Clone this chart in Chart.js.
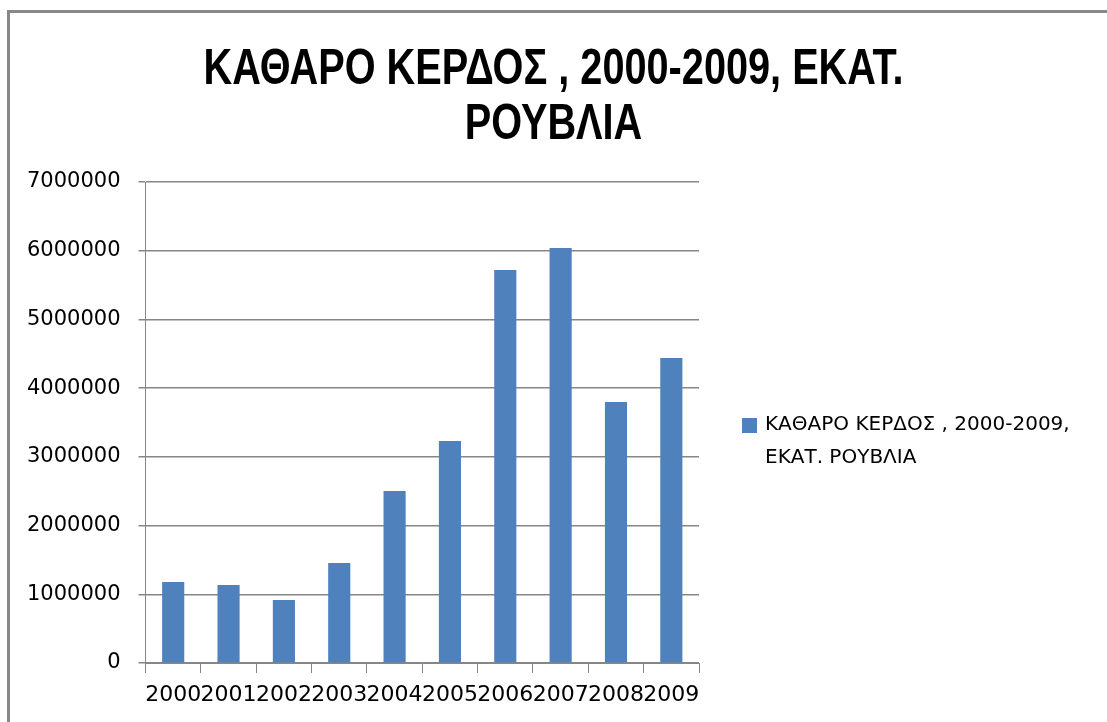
<!DOCTYPE html>
<html>
<head>
<meta charset="utf-8">
<script src="https://cdn.jsdelivr.net/npm/chart.js@4"></script>
<style>
  html, body { margin: 0; padding: 0; background: #fff; overflow: hidden; }
  #grafica { display: block; }
</style>
</head>
<body>
<canvas id="grafica" width="1107" height="722"></canvas>
<script>
// datos del grafico
const anios = ["2000", "2001", "2002", "2003", "2004", "2005", "2006", "2007", "2008", "2009"];
const beneficio = [1180000, 1135000, 917000, 1455000, 2503000, 3230000, 5720000, 6040000, 3800000, 4440000];
const titulo = ["ΚΑΘΑΡΟ ΚΕΡΔΟΣ , 2000-2009, ΕΚΑΤ.", "ΡΟΥΒΛΙΑ"];
const nombreSerie = "ΚΑΘΑΡΟ ΚΕΡΔΟΣ , 2000-2009, ΕΚΑΤ. ΡΟΥΒΛΙΑ";
const ticksY = [0, 1000000, 2000000, 3000000, 4000000, 5000000, 6000000, 7000000];

const gris = "#868686";
const fuenteEjes = "DejaVu Sans";

// marco gris (solo borde superior e izquierdo visibles)
const pluginMarco = {
  id: "marco",
  beforeDraw(chart) {
    const c = chart.ctx;
    c.save();
    c.fillStyle = "#fff";
    c.fillRect(0, 0, chart.width, chart.height);
    c.strokeStyle = "#888";
    c.lineWidth = 3;
    c.beginPath();
    c.moveTo(8.5, chart.height);
    c.lineTo(8.5, 11.5);
    c.lineTo(chart.width, 11.5);
    c.stroke();
    c.restore();
  }
};

// titulo centrado en todo el lienzo (comprimido a lo ancho como el original)
const pluginTitulo = {
  id: "tituloCentrado",
  afterDraw(chart) {
    const c = chart.ctx;
    c.save();
    c.fillStyle = "#000";
    c.font = "bold 50px 'Liberation Sans', sans-serif";
    c.textBaseline = "middle";
    c.textAlign = "center";
    const ancho = c.measureText(titulo[0]).width;
    const esc = 700 / ancho;
    c.translate(chart.width / 2, 0);
    c.scale(esc, 1);
    titulo.forEach((t, i) => c.fillText(t, 0, 70 + i * 55));
    c.restore();
  }
};

// leyenda a la derecha con texto en dos lineas
const pluginLeyenda = {
  id: "leyendaLateral",
  afterDraw(chart) {
    const c = chart.ctx;
    const ds = chart.data.datasets[0];
    const x = chart.chartArea.right + 43;
    const y = 425;
    c.save();
    c.font = "20px '" + fuenteEjes + "'";
    // partir el texto en lineas
    const palabras = ds.label.split(" ");
    const lineas = [];
    let actual = "";
    palabras.forEach(p => {
      const prueba = actual ? actual + " " + p : p;
      if (c.measureText(prueba).width > 335 && actual) {
        lineas.push(actual);
        actual = p;
      } else {
        actual = prueba;
      }
    });
    lineas.push(actual);
    c.fillStyle = ds.backgroundColor;
    c.fillRect(x, y - 7, 15, 15);
    c.fillStyle = "#000";
    c.textBaseline = "middle";
    lineas.forEach((l, i) => c.fillText(l, x + 23, y + i * 33));
    c.restore();
  }
};

const ctx = document.getElementById("grafica").getContext("2d");
const grafico = new Chart(ctx, {
  type: "bar",
  data: {
    labels: anios,
    datasets: [
      {
        label: nombreSerie,
        data: beneficio,
        backgroundColor: "#4F81BD",
        borderWidth: 0,
        barPercentage: 0.4,
        categoryPercentage: 1.0,
      },
    ],
  },
  options: {
    responsive: false,
    animation: false,
    layout: {
      padding: { left: 9, right: 408, top: 182, bottom: 0 },
    },
    plugins: {
      legend: { display: false },
      title: { display: false },
      tooltip: { enabled: false },
    },
    scales: {
      x: {
        offset: true,
        afterFit(scale) {
          scale.height = 59;
        },
        grid: {
          offset: true,
          drawOnChartArea: false,
          drawTicks: true,
          tickLength: 10,
          color: gris,
          lineWidth: 1,
        },
        border: { display: true, color: gris, width: 1 },
        ticks: {
          autoSkip: false,
          maxRotation: 0,
          minRotation: 0,
          padding: 9,
          color: "#000",
          font: { family: fuenteEjes, size: 22 },
        },
      },
      y: {
        min: 0,
        max: 7000000,
        afterBuildTicks(scale) {
          scale.ticks = ticksY.map(v => ({ value: v }));
        },
        grid: {
          color: gris,
          lineWidth: 1.5,
          drawTicks: true,
          tickLength: 7,
        },
        border: { display: true, color: gris, width: 1 },
        ticks: {
          padding: 18,
          color: "#000",
          font: { family: fuenteEjes, size: 21 },
          callback: v => String(v),
        },
      },
    },
  },
  plugins: [pluginMarco, pluginTitulo, pluginLeyenda],
});
</script>
</body>
</html>
